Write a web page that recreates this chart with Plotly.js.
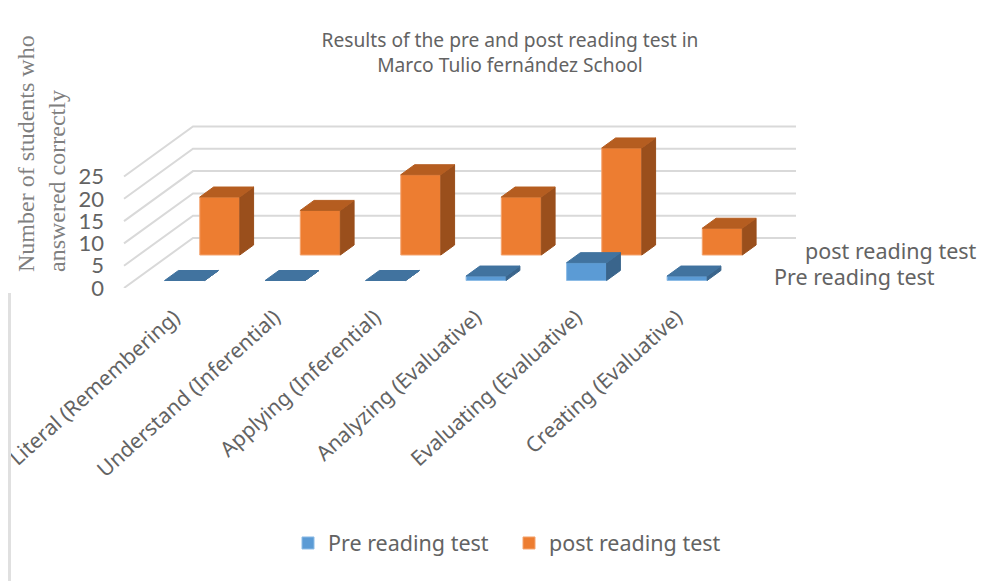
<!DOCTYPE html>
<html>
<head>
<meta charset="utf-8">
<script src="https://cdn.plot.ly/plotly-3.0.1.min.js"></script>
<style>html,body{margin:0;padding:0;background:#fff}#c{width:999px;height:581px}</style>
</head>
<body>
<div id="c"></div>
<script>
var categories = ["Literal (Remembering)", "Understand (Inferential)", "Applying (Inferential)", "Analyzing (Evaluative)", "Evaluating (Evaluative)", "Creating (Evaluative)"];
var preValues = [0, 0, 0, 1, 4, 1];
var postValues = [13, 10, 18, 13, 24, 6];
var yTicks = [0, 5, 10, 15, 20, 25];
var seriesNames = ["Pre reading test", "post reading test"];
var titleText = "Results of the pre and post reading test in<br>Marco Tulio fernández School";
var yTitleText = "Number of students who<br>answered correctly";

// scale of the oblique projection
var W = 999, H = 581, L = 105;
var pxCat = 100.5, pxVal = 4.46, x0px = 124, y0px = 288;
var depthX = 69 / pxCat, depthY = 50 / pxVal;
var barW = 40 / pxCat;
var xRange = [(L - x0px) / pxCat - 0.5, (W - x0px) / pxCat - 0.5];
var yRange = [0, y0px / pxVal];
function px(x) { return (x - L) / (W - L); }
function py(y) { return (y0px - y) / y0px; }

function faces(values, d0, d1, colTop, colSide) {
  var topX = [], topY = [], sideX = [], sideY = [];
  values.forEach(function (v, i) {
    var xl = i - barW / 2, xr = i + barW / 2;
    var pX = function (x, d) { return x + d * depthX; };
    var pY = function (val, d) { return val + d * depthY; };
    topX.push(pX(xl, d0), pX(xr, d0), pX(xr, d1), pX(xl, d1), pX(xl, d0), null);
    topY.push(pY(v, d0), pY(v, d0), pY(v, d1), pY(v, d1), pY(v, d0), null);
    sideX.push(pX(xr, d0), pX(xr, d1), pX(xr, d1), pX(xr, d0), pX(xr, d0), null);
    sideY.push(pY(0, d0), pY(0, d1), pY(v, d1), pY(v, d0), pY(0, d0), null);
  });
  return [
    {type: "scatter", mode: "lines", x: sideX, y: sideY, fill: "toself", fillcolor: colSide,
     line: {color: colSide, width: 1}, showlegend: false, hoverinfo: "skip"},
    {type: "scatter", mode: "lines", x: topX, y: topY, fill: "toself", fillcolor: colTop,
     line: {color: colTop, width: 1}, showlegend: false, hoverinfo: "skip"}
  ];
}
function front(values, name, d0, col, edge) {
  return {
    type: "bar", name: name,
    x: values.map(function (v, i) { return i + d0 * depthX; }),
    y: values, base: values.map(function () { return d0 * depthY; }),
    width: barW, marker: {color: col, line: {color: edge, width: 1}}, hoverinfo: "skip"
  };
}

var preD = [0.15, 0.35], postD = [0.66, 0.86];
var data = [
  front(preValues, seriesNames[0], preD[0], "#5b9bd5", "#8dbce6"),
  front(postValues, seriesNames[1], postD[0], "#ed7d31", "#f4a46e")
].concat(
  faces(postValues, postD[0], postD[1], "#b55d20", "#9a4f1c"),
  faces(preValues, preD[0], preD[1], "#41739f", "#3a658c")
);

var rightEnd = (796 - x0px) / pxCat - 0.5;
var shapes = yTicks.map(function (t) {
  var xs = -0.5, xb = -0.5 + depthX;
  return {
    type: "path", layer: "below", xref: "x", yref: "y",
    path: "M" + xs + "," + t + " L" + xb + "," + (t + depthY) + " L" + rightEnd + "," + (t + depthY),
    line: {color: "#d9d9d9", width: 2}
  };
});
shapes.push({type: "line", xref: "paper", yref: "paper", x0: px(9.5), x1: px(9.5), y0: py(581), y1: py(293),
             line: {color: "#e0e0e0", width: 3}});

var gray = "#636363";
var layout = {
  width: W, height: H,
  margin: {l: L, r: 0, t: 0, b: H - y0px},
  paper_bgcolor: "#fff", plot_bgcolor: "rgba(0,0,0,0)",
  barmode: "overlay", hovermode: false,
  font: {family: "Noto Sans, sans-serif", color: gray},
  title: {text: titleText, x: 510 / W, xanchor: "center", y: 1 - 47 / H, yanchor: "middle",
          font: {family: "Noto Sans, sans-serif", size: 19.2, color: gray}},
  xaxis: {range: xRange, tickmode: "array", tickvals: categories.map(function (c, i) { return i; }),
          ticktext: categories, tickangle: -42, ticks: "", showgrid: false, zeroline: false, showline: false,
          tickfont: {family: "Noto Sans, sans-serif", size: 21, color: gray}, automargin: false,
          fixedrange: true, ticklabelstandoff: 12},
  yaxis: {range: yRange, tickmode: "array", tickvals: yTicks, ticks: "", showgrid: false, zeroline: false,
          showline: false, tickfont: {family: "Lato, sans-serif", size: 22, color: gray}, automargin: false,
          fixedrange: true},
  legend: {orientation: "h", x: px(288), xanchor: "left", y: py(543), yanchor: "middle",
           font: {family: "Noto Sans, sans-serif", size: 21.5, color: gray}, traceorder: "normal",
           entrywidth: 176, entrywidthmode: "pixels"},
  shapes: shapes,
  annotations: [
    {xref: "paper", yref: "paper", x: px(803), y: py(250), xanchor: "left", yanchor: "middle", showarrow: false,
     text: seriesNames[1], font: {family: "Noto Sans, sans-serif", size: 21.5, color: gray}},
    {xref: "paper", yref: "paper", x: px(772), y: py(276), xanchor: "left", yanchor: "middle", showarrow: false,
     text: seriesNames[0], font: {family: "Noto Sans, sans-serif", size: 21.5, color: gray}},
    {xref: "paper", yref: "paper", x: px(41), y: py(154), xanchor: "center", yanchor: "middle", showarrow: false,
     textangle: -90, align: "left", text: yTitleText,
     font: {family: "Liberation Serif, serif", size: 24, color: "#7f7f7f"}}
  ]
};
Plotly.newPlot("c", data, layout, {displayModeBar: false, responsive: false});
</script>
</body>
</html>
